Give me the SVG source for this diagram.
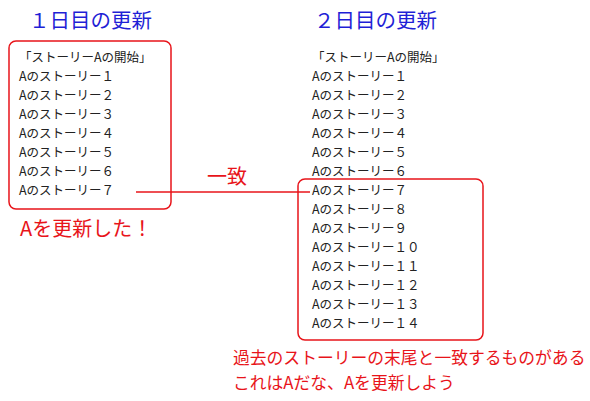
<svg xmlns="http://www.w3.org/2000/svg" width="590" height="401" viewBox="0 0 590 401">
<style>
text{font-family:"Noto Sans CJK JP","Noto Sans",sans-serif}
.title{font-size:20.5px;fill:#1f1fd6}
.item{font-size:12.5px;fill:#222}
.red{fill:#e8141a}
.box{fill:none;stroke:#e8141a;stroke-width:1.5}
.conn{stroke:#e8141a;stroke-width:1.5;fill:none}
</style>
<rect width="590" height="401" fill="#fff"/>
<g id="day1">
<text class="title" x="29" y="28">１日目の更新</text>
<rect class="box" x="9" y="41" width="162" height="168" rx="7"/>
<text class="item" x="19" y="62">「ストーリーAの開始」</text>
<text class="item" x="19" y="81">Aのストーリー１</text>
<text class="item" x="19" y="100">Aのストーリー２</text>
<text class="item" x="19" y="119">Aのストーリー３</text>
<text class="item" x="19" y="138">Aのストーリー４</text>
<text class="item" x="19" y="157">Aのストーリー５</text>
<text class="item" x="19" y="176">Aのストーリー６</text>
<text class="item" x="19" y="195">Aのストーリー７</text>
<text class="red" x="20" y="236" font-size="20">Aを更新した！</text>
</g>
<g id="day2">
<text class="title" x="314" y="28">２日目の更新</text>
<rect class="box" x="298" y="179" width="185" height="161" rx="7"/>
<text class="item" x="312" y="62">「ストーリーAの開始」</text>
<text class="item" x="312" y="81">Aのストーリー１</text>
<text class="item" x="312" y="100">Aのストーリー２</text>
<text class="item" x="312" y="119">Aのストーリー３</text>
<text class="item" x="312" y="138">Aのストーリー４</text>
<text class="item" x="312" y="157">Aのストーリー５</text>
<text class="item" x="312" y="176">Aのストーリー６</text>
<text class="item" x="312" y="195">Aのストーリー７</text>
<text class="item" x="312" y="214">Aのストーリー８</text>
<text class="item" x="312" y="233">Aのストーリー９</text>
<text class="item" x="312" y="252">Aのストーリー１０</text>
<text class="item" x="312" y="271">Aのストーリー１１</text>
<text class="item" x="312" y="290">Aのストーリー１２</text>
<text class="item" x="312" y="309">Aのストーリー１３</text>
<text class="item" x="312" y="328">Aのストーリー１４</text>
<text class="red" x="233" y="364" font-size="16.8">過去のストーリーの末尾と一致するものがある</text>
<text class="red" x="233" y="389" font-size="16.8">これはAだな、Aを更新しよう</text>
</g>
<g id="connectors">
<line class="conn" x1="136" y1="192" x2="310" y2="192"/>
<text class="red" x="207" y="184" font-size="20">一致</text>
</g>
</svg>
